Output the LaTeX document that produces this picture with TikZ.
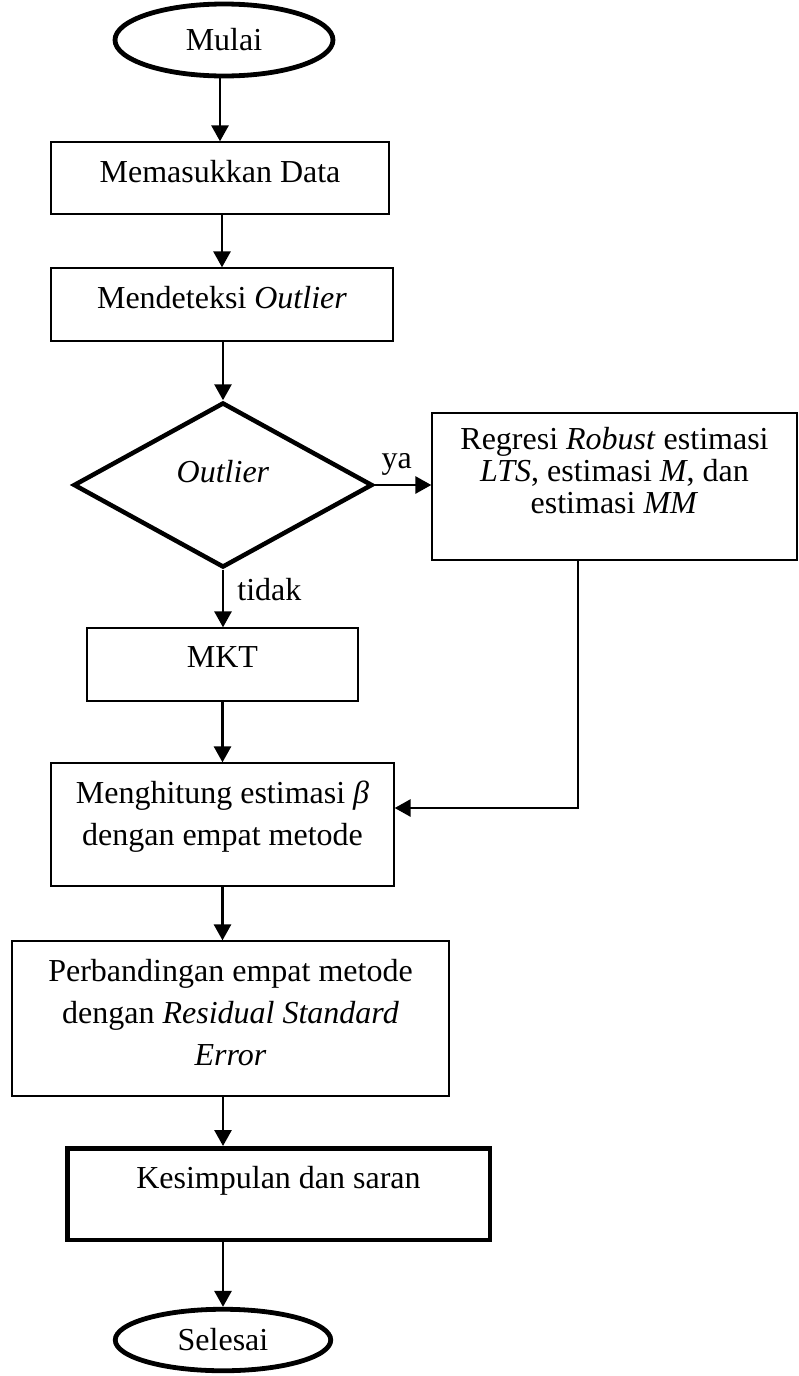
\documentclass[tikz,border=0pt]{standalone}
\usepackage{fontspec}
\setmainfont{Liberation Serif}
\usetikzlibrary{shapes.geometric,arrows.meta}

\newcommand{\bigtext}{\fontsize{32}{42}\selectfont}
\newcommand{\tighttext}{\fontsize{32}{32}\selectfont}

\begin{document}
\begin{tikzpicture}[x=1pt,y=-1pt]
  \tikzstyle{every node}=[inner sep=0pt,align=center,font=\bigtext]
  \tikzstyle{proc}=[draw,rectangle,line width=1.3pt]
  \tikzstyle{term}=[draw,ellipse,line width=4.8pt]
  \tikzstyle{flow}=[line width=2.8pt,-{Triangle[length=16pt,width=17pt]}]

  \useasboundingbox (0,0) rectangle (798,1376);

  \node[term,minimum width=218pt,minimum height=72pt]  (start)   at (224,40)      {Mulai};
  \node[proc,minimum width=338pt,minimum height=72pt,text height=40pt,text depth=32pt]  (input)   at (220,178)     {Memasukkan Data};
  \node[proc,minimum width=342pt,minimum height=73pt,text height=40pt,text depth=33pt]  (detect)  at (222,304.5)   {Mendeteksi \textit{Outlier}};
  \node[draw,diamond,line width=4.5pt,minimum width=299pt,minimum height=165pt,text height=20pt,text depth=26pt] (dec) at (223,485) {\textit{Outlier}};
  \node[proc,minimum width=365pt,minimum height=147pt,text height=100pt,text depth=47pt,font=\tighttext] (robust) at (614.5,486.5)
       {Regresi \textit{Robust} estimasi\\\textit{LTS}, estimasi \textit{M}, dan\\estimasi \textit{MM}};
  \node[proc,minimum width=271pt,minimum height=73pt,text height=39pt,text depth=34pt]  (mkt)     at (222.5,664.5) {MKT};
  \node[proc,minimum width=343pt,minimum height=123pt,text height=82pt,text depth=41pt] (beta)    at (222.5,824.5) {Menghitung estimasi \textit{β}\\dengan empat metode};
  \node[proc,minimum width=437pt,minimum height=155pt,text height=124pt,text depth=31pt] (compare) at (230.5,1018.5)
       {Perbandingan empat metode\\dengan \textit{Residual Standard}\\\textit{Error}};
  \node[draw,rectangle,line width=4.5pt,minimum width=422.5pt,minimum height=91.5pt,text height=39.75pt,text depth=51.75pt] (concl) at (278.5,1194) {Kesimpulan dan saran};
  \node[term,minimum width=215.5pt,minimum height=61.5pt] (end) at (223,1340) {Selesai};

  \coordinate (turn) at (578,808);

  \draw[flow] (input.north |- start.south) -- (input.north);
  \draw[flow] (detect.north |- input.south) -- (detect.north);
  \draw[flow] (dec.north |- detect.south) -- (dec.north);
  \draw[flow] (dec.east) -- (dec.east -| robust.west) node[pos=0.39,anchor=base,yshift=17pt] {ya};
  \draw[flow] (dec.south) -- (dec.south |- mkt.north) node[pos=0.54,anchor=base west,xshift=13pt] {tidak};
  \draw[flow] (mkt.south) -- (mkt.south |- beta.north);
  \draw[flow] (turn |- robust.south) -- (turn) -- (turn -| beta.east);
  \draw[flow] (beta.south) -- (beta.south |- compare.north);
  \draw[flow] (end.north |- compare.south) -- (end.north |- concl.north);
  \draw[flow] (end.north |- concl.south) -- (end.north);
\end{tikzpicture}
\end{document}
